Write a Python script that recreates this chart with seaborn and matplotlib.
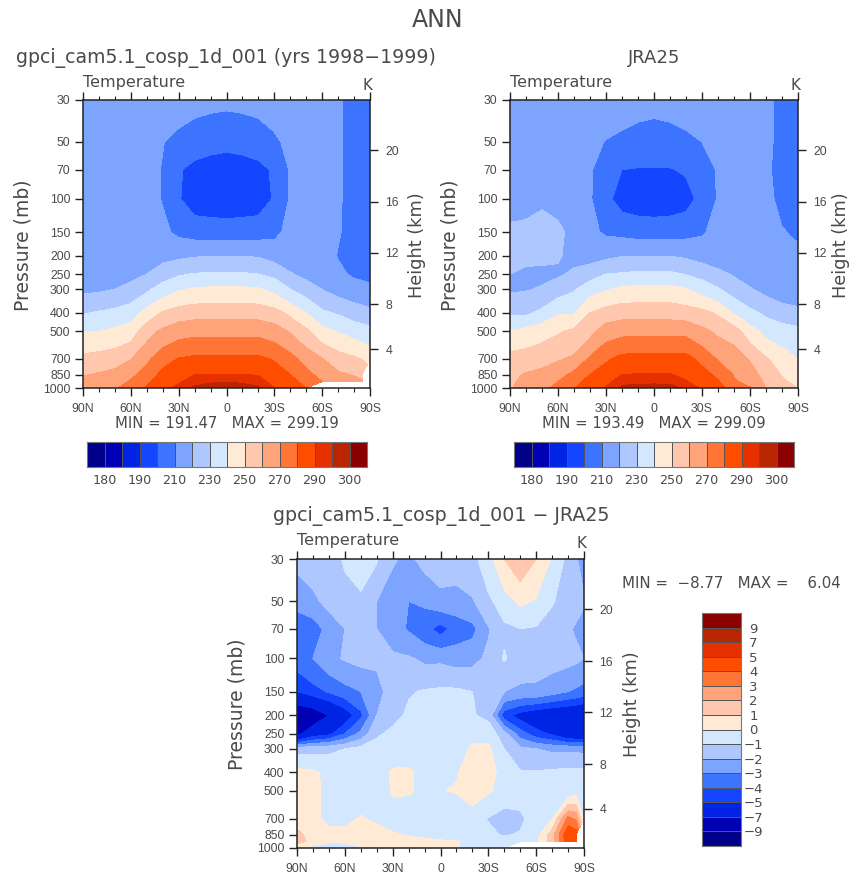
import matplotlib
matplotlib.use("Agg")
import matplotlib.pyplot as plt
from matplotlib.colors import ListedColormap
from matplotlib.ticker import NullLocator
import numpy as np
import seaborn as sns

sns.set_theme(style="ticks")
plt.rcParams['font.family'] = ['DejaVu Sans']

W, H = 851, 875
nan = np.nan

lats = [90, 80, 70, 60, 50, 40, 30, 20, 10, 0, -10, -20, -30, -40, -50, -60, -70, -80, -85, -90]
pressure = [30, 50, 70, 100, 150, 200, 250, 300, 400, 500, 700, 850, 925, 1000]

# one row per latitude, top of the atmosphere first
model_temp = [
    [216, 216, 216, 216, 216, 215, 215.5, 218, 229, 239.3, 252.6, 259.4, 262, 265],
    [216, 216, 216, 216, 216, 215.5, 216, 218.5, 231, 240, 254, 261, 264, 267],
    [216, 216, 216, 216, 216, 216, 216.5, 220, 232.7, 242, 255.5, 263, 266, 269],
    [216, 215, 215, 215, 215, 216, 216.8, 223.3, 235, 244.7, 259.6, 267.6, 271, 274],
    [216, 214, 213, 213, 214, 216, 220, 228, 243.7, 255.6, 267.7, 274, 278, 280.8],
    [216, 210.3, 209.5, 209.5, 212, 217, 225, 234.4, 251, 262, 276, 283, 286, 288],
    [214, 207.5, 201, 200.8, 208, 218, 228.9, 238.9, 254.5, 266, 280.4, 287, 289, 292],
    [213, 205, 197, 195, 206, 219.3, 230.6, 241, 256, 267, 282, 290, 293, 296],
    [212.5, 203, 196, 194, 205.8, 219.5, 231.2, 241.8, 256, 267, 282.3, 290.3, 294.2, 297.5],
    [212, 202.5, 195, 193, 205.8, 219.5, 231.2, 241.8, 256, 267, 282.3, 290.3, 294.8, 298],
    [212.5, 203, 196, 194, 205.8, 219.5, 231.2, 241.8, 256, 267, 282.3, 290.3, 294, 297.5],
    [213, 205, 197, 195, 206, 219.3, 230, 241, 256, 267, 282, 289.6, 292.5, 296],
    [215, 208, 201.5, 201, 207.5, 216, 227.5, 237, 253.6, 264.7, 279, 285, 287.5, 290],
    [216, 213, 211, 211, 213, 214, 220.9, 230, 247.5, 259, 273.4, 280, 283, 285],
    [216, 215, 214, 214, 215, 214.5, 217, 225, 240, 252, 266.2, 273, 277, 280],
    [215, 215, 215, 215, 215, 215, 216, 219.7, 231.7, 243, 260.3, 266.6, 270, nan],
    [211, 211, 211, 211, 210.7, 209.5, 212, 216, 229, 239.3, 254.5, 261.7, 265, nan],
    [207, 207, 207, 207, 207, 207, 208.5, 214, 225, 236, 251.6, 259.3, 263, nan],
    [206.5, 206.5, 206.5, 206.5, 206.5, 206.5, 208.2, 212.7, 224, 234.5, 249.5, 257, 261, nan],
    [206, 206, 206, 206, 206, 206, 208, 211.5, 222.7, 233, 246, nan, nan, nan],
]

jra_temp = [
    [216, 216, 217, 218, 221, 221.5, 220, 218.5, 228.6, 239.8, 254, 258, 259, 259.5],
    [216, 216, 217, 218, 221.5, 222.5, 218, 219.3, 228, 243, 254.7, 260.8, 261.5, 262],
    [216, 216, 217, 219, 222.5, 222, 218, 220.8, 232.5, 245.8, 256.6, 262.5, 265, 268],
    [216, 216, 216, 217, 222, 221, 218.5, 225.4, 238.9, 248.8, 259, 266, 270, 272],
    [216, 215, 215, 215, 217, 217, 221.8, 229, 239, 252, 261.5, 272.9, 276.5, 279.5],
    [216, 213, 211, 211, 212, 216, 225.5, 236, 250, 256.7, 271.5, 280, 284, 287],
    [216, 209.5, 205, 202.5, 208.7, 217.7, 230, 239, 254.2, 265, 278.4, 285, 288, 290.5],
    [215, 207.5, 200, 196, 207.5, 219.6, 231, 242, 256, 267, 283, 290, 293.6, 296],
    [213.5, 206, 199.5, 194.5, 206.2, 219.8, 232, 243, 256, 267, 283.5, 290.5, 293.6, 297],
    [213, 205, 199.5, 194, 206, 219.8, 232, 243, 256, 267, 283.5, 290.5, 293.6, 297.5],
    [213.5, 206, 199.5, 194.5, 206.2, 219.8, 232, 243, 256, 267, 283.5, 290.5, 293.6, 297],
    [215, 207.5, 201, 196.5, 206.9, 218.5, 229.5, 240.4, 254.7, 267, 283.5, 288, 290.5, 294],
    [216, 210, 205, 203, 209, 216, 226.6, 235.8, 252.8, 262.4, 276.9, 284, 286.5, 289],
    [216, 213, 211, 210.8, 213, 214, 222.7, 231, 248.6, 258, 269, 277.5, 281, 284],
    [216, 215, 214, 214, 215, 216, 219, 225, 239, 254.6, 266, 269.5, 271, 276],
    [214, 214, 214, 215, 215, 215, 216, 220.7, 232.5, 244, 259, 265, 267.5, 270.5],
    [211, 210.8, 211, 212, 214, 214.5, 215.5, 217, 228, 236.8, 251, 255.5, 258, 260],
    [209, 209, 208, 208, 210.5, 212, 212, 213.5, 225, 234, 245, 249.5, 251.5, 254],
    [208, 208, 207.5, 207.5, 209.7, 211.7, 211.9, 213, 224, 233.3, 242, 247, 249.3, 252],
    [207, 207, 207, 207, 209, 211.5, 211.8, 212.5, 223, 232.6, 239.5, 244.5, 247, 249.8],
]

diff_temp = [
    [-1.7, -2.7, -3.6, -3.5, -5.0, -8.8, -7.5, -1.4, 0.3, 0.4, 0.3, 1.4, 1.5, -0.2],
    [-1.6, -2.2, -3.6, -3.0, -4.4, -8.3, -5.8, -1.3, 0.2, 0.3, 0.2, 0.4, 0.6, -0.3],
    [-1.4, -1.7, -2.6, -2.3, -3.9, -7.0, -5.3, -1.2, -0.3, -0.3, -0.2, 0.2, 0.1, -0.5],
    [-0.9, -1.3, -2.0, -1.9, -3.4, -5.8, -4.0, -1.0, -0.3, -0.3, -0.2, 0.2, 0.3, -1.0],
    [-0.5, -1.2, -1.6, -1.7, -3.0, -4.3, -2.7, -0.7, -0.3, -0.3, 0.05, 0.6, 0.5, -0.1],
    [-0.9, -2.0, -2.0, -1.8, -2.4, -2.0, -1.2, -0.5, -0.4, -0.3, -0.1, 0.2, 0.3, -0.1],
    [-1.9, -2.5, -2.6, -1.8, -1.5, -1.4, -0.7, -0.4, 0.1, 0.05, -0.2, 0.05, 0.3, 0.1],
    [-2.2, -3.0, -3.1, -1.9, -1.1, -0.8, -0.5, -0.3, 0.1, 0.05, -0.3, -0.05, 0.3, 0.2],
    [-1.7, -2.8, -3.7, -2.2, -0.9, -0.6, -0.5, -0.3, -0.2, -0.1, -0.4, -0.2, 0.2, 0.2],
    [-1.5, -2.3, -4.4, -2.2, -0.8, -0.5, -0.5, -0.3, -0.2, -0.05, -0.4, -0.3, 0.1, 0.1],
    [-1.5, -2.4, -3.6, -2.4, -0.8, -0.6, -0.5, -0.3, -0.1, 0.1, -1.03, -0.4, 0.05, 0.05],
    [-1.3, -2.1, -3.3, -2.3, -1.0, -0.9, -0.2, 0.1, 0.6, 0.7, -0.7, -0.5, -0.2, -0.2],
    [-0.4, -1.2, -2.1, -1.8, -1.4, -1.3, -0.3, 0.2, 0.4, 0.1, -1.05, -0.8, -0.4, -0.3],
    [1.0, -0.5, -1.2, -0.9, -2.0, -4.6, -1.7, -1.0, -0.4, -0.3, -1.5, -1.1, -0.5, -0.3],
    [1.7, 0.2, -1.0, -1.5, -2.2, -5.5, -3.5, -1.8, -0.9, -0.4, -1.3, -0.9, -0.4, nan],
    [1.0, -0.1, -1.1, -1.6, -2.2, -6.0, -4.6, -2.0, -0.9, -0.5, -0.3, -0.4, -0.2, nan],
    [-0.1, -0.9, -1.5, -1.6, -2.6, -6.3, -5.2, -2.2, -0.8, -0.4, -0.05, 1.5, 1.5, nan],
    [-1.3, -1.5, -1.9, -1.7, -3.0, -6.5, -6.3, -2.2, -0.7, -0.9, 3.3, 4.9, 4.8, nan],
    [-1.9, -1.7, -2.1, -1.8, -3.2, -6.6, -6.4, -2.2, -0.7, -0.4, 2.8, 4.6, 4.6, nan],
    [-2.4, -1.9, -2.4, -2.0, -3.4, -6.8, -6.5, -2.3, -0.7, -0.3, -0.2, nan, nan, nan],
]

temp_levels = [180, 185, 190, 200, 210, 220, 230, 240, 250, 260, 270, 280, 290, 295, 300]
temp_labels = ['180', '190', '210', '230', '250', '270', '290', '300']
diff_levels = [-9, -7, -5, -4, -3, -2, -1, 0, 1, 2, 3, 4, 5, 7, 9]
diff_labels = ['\u22129', '\u22127', '\u22125', '\u22124', '\u22123', '\u22122', '\u22121',
               '0', '1', '2', '3', '4', '5', '7', '9']

band_colors = ['#000088', '#0000B4', '#0024E4', '#1446FF', '#3D74FF', '#7DA5FF', '#AEC8FF', '#D3E7FF',
               '#FFEAD6', '#FFC8AE', '#FFA47A', '#FF7536', '#FF4D00', '#E63000', '#B82500', '#8B0000']
palette = sns.color_palette(band_colors)
band_cmap = ListedColormap(palette)

p_ticks = [30, 50, 70, 100, 150, 200, 250, 300, 400, 500, 700, 850, 1000]
lat_ticks = [90, 60, 30, 0, -30, -60, -90]
lat_tick_labels = ['90N', '60N', '30N', '0', '30S', '60S', '90S']
lat_minor = [80, 70, 50, 40, 20, 10, -10, -20, -40, -50, -70, -80]
height_km = [20, 16, 12, 8, 4]
height_p = [55.3, 103.6, 193, 361, 623]

INK = '#4a4a4a'
TICK_FONT = 'Liberation Sans'


def px_axes(fig, left, top, right, bottom):
    return fig.add_axes([left / W, 1 - bottom / H, (right - left) / W, (bottom - top) / H])


def txt(fig, x, y, s, size=10, **kw):
    kw.setdefault('ha', 'center')
    kw.setdefault('va', 'center')
    fig.text(x / W, 1 - y / H, s, fontsize=size, color=INK, **kw)


def draw_panel(fig, box, data, levels, h_label_x):
    left, top, right, bottom = box
    ax = px_axes(fig, left, top, right, bottom)
    ax.contourf(lats, pressure, np.array(data, dtype=float).T, levels=levels,
                colors=palette, extend='both')
    ax.set_yscale('log')
    ax.set_xlim(90, -90)
    ax.set_ylim(1000, 30)
    ax.grid(False)

    ax.set_yticks(p_ticks, [str(p) for p in p_ticks])
    ax.yaxis.set_minor_locator(NullLocator())
    ax.set_xticks(lat_ticks, lat_tick_labels)
    ax.set_xticks(lat_minor, minor=True)
    ax.tick_params(axis='x', which='major', top=True, direction='out', length=6, width=1, color='#222222',
                   labelsize=8.8, labelcolor=INK, labelfontfamily=TICK_FONT, pad=5)
    ax.tick_params(axis='x', which='minor', top=True, direction='out', length=3, width=0.8, color='#222222')
    ax.tick_params(axis='y', which='major', direction='out', length=6, width=1, color='#222222',
                   labelsize=8.8, labelcolor=INK, labelfontfamily=TICK_FONT, pad=3)
    for s in ax.spines.values():
        s.set_linewidth(1.1)
        s.set_color('#222222')

    right_ax = ax.twinx()
    right_ax.set_yscale('log')
    right_ax.set_ylim(1000, 30)
    right_ax.set_yticks(height_p, [str(h) for h in height_km])
    right_ax.yaxis.set_minor_locator(NullLocator())
    right_ax.grid(False)
    right_ax.tick_params(axis='y', direction='out', length=6, width=1, color='#222222',
                         labelsize=8.8, labelcolor=INK, labelfontfamily=TICK_FONT, pad=5)
    for s in right_ax.spines.values():
        s.set_visible(False)

    mid = (top + bottom) / 2 + 1
    txt(fig, left - 60, mid, 'Pressure (mb)', size=13.5, rotation=90)
    txt(fig, h_label_x, mid, 'Height (km)', size=12.8, rotation=90)
    txt(fig, left, top - 18, 'Temperature', size=11.5, ha='left')
    txt(fig, right + 2, top - 15, 'K', size=11, ha='right')
    return ax


def draw_hbar(fig, box, labels):
    left, top, right, bottom = box
    cax = px_axes(fig, left, top, right, bottom)
    sns.heatmap(np.arange(16).reshape(1, -1), cmap=band_cmap, cbar=False, ax=cax,
                linewidths=0.5, linecolor='#555555', xticklabels=False, yticklabels=False)
    cax.set_xticks(range(1, 16, 2), labels)
    cax.tick_params(axis='x', length=0, labelsize=9.2, labelcolor=INK, pad=5)
    for s in cax.spines.values():
        s.set_visible(True)
        s.set_color('#777777')
        s.set_linewidth(0.8)


def draw_vbar(fig, box, labels):
    left, top, right, bottom = box
    cax = px_axes(fig, left, top, right, bottom)
    sns.heatmap(np.arange(16)[::-1].reshape(-1, 1), cmap=band_cmap, cbar=False, ax=cax,
                linewidths=0.5, linecolor='#555555', xticklabels=False, yticklabels=False)
    cax.set_xticks([])
    for s in cax.spines.values():
        s.set_visible(True)
        s.set_color('#777777')
        s.set_linewidth(0.8)
    cax.yaxis.tick_right()
    cax.set_yticks(range(1, 16), labels[::-1], ha='center', rotation=0)
    cax.tick_params(axis='y', length=0, labelsize=9.5, labelcolor=INK, pad=9)


fig = plt.figure(figsize=(W / 100, H / 100), dpi=100)

draw_panel(fig, (83, 100, 370, 388), model_temp, temp_levels, 417)
draw_panel(fig, (510, 100, 798, 388), jra_temp, temp_levels, 841)
draw_panel(fig, (297, 559, 584, 848), diff_temp, diff_levels, 632)

txt(fig, 438, 20, 'ANN', size=17)
txt(fig, 226, 58, 'gpci_cam5.1_cosp_1d_001 (yrs 1998\u22121999)', size=13.6)
txt(fig, 654, 58, 'JRA25', size=13)
txt(fig, 441, 516, 'gpci_cam5.1_cosp_1d_001 \u2212 JRA25', size=13.7)

txt(fig, 227, 423, 'MIN = 191.47   MAX = 299.19', size=10.7)
txt(fig, 654, 423, 'MIN = 193.49   MAX = 299.09', size=10.7)
txt(fig, 731, 583, 'MIN =  \u22128.77   MAX =    6.04', size=10.8)

draw_hbar(fig, (87, 442, 367, 467), temp_labels)
draw_hbar(fig, (514, 442, 794, 467), temp_labels)
draw_vbar(fig, (702, 613, 741, 846), diff_labels)

fig.savefig('out.png', dpi=100)
